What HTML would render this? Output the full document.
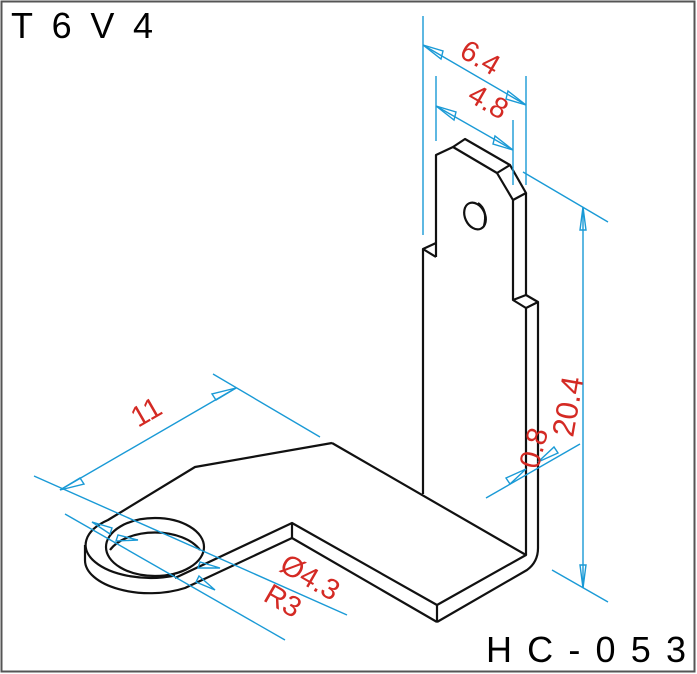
<!DOCTYPE html>
<html><head><meta charset="utf-8"><style>
html,body{margin:0;padding:0;background:#fff}
svg{display:block}
</style></head><body>
<svg width="697" height="674" viewBox="0 0 697 674" xmlns="http://www.w3.org/2000/svg">
<rect x="1.5" y="1.5" width="693" height="670" fill="#fff" stroke="#555" stroke-width="2"/>
<g font-family="Liberation Sans, sans-serif" fill="#000">
<text x="11" y="38" font-size="36" textLength="142" lengthAdjust="spacing">T6V4</text>
<text x="486" y="662" font-size="36" textLength="200" lengthAdjust="spacing">HC-053</text>
</g>
<!-- part -->
<g fill="none" stroke="#111" stroke-width="2.2" stroke-linejoin="round">
<path d="M436,257 L436,155 L453,147 L497,173 L513,200 L513,300"/>
<path d="M453,147 L465,139 L510,165 L526,193 L513,200"/>
<path d="M497,173 L510,165"/>
<path d="M526,193 L526,295"/>
<path d="M513,300 L526,295 L538,302 L526,308 Z"/>
<path d="M423,494 L423,249 L436,243 M423,249 L436,257"/>
<path d="M526,308 L526,555"/>
<path d="M538,302 L538,548 Q538,562 527,570 L437,622"/>
<ellipse cx="475" cy="216" rx="10" ry="14" transform="rotate(-25 475 216)"/>
<path d="M478,203 Q488,210 484,226"/>
<path d="M332,443 L526,555 L437,605 L292,523 L175,578"/>
<path d="M332,443 L195,467 L108,520 A65,33 0 0 0 175,575.5"/>
<path d="M437,605 L437,622"/>
<path d="M292,523 L292,538 L437,622"/>
<path d="M85,545 L85,560 A65,33 0 0 0 185,588 L292,538"/>
<ellipse cx="155" cy="547" rx="49" ry="29"/>
<path d="M110,550 A49,29 0 0 1 200,550"/>
</g>
<g fill="none" stroke="#1a9ad6" stroke-width="1.4">
<path d="M423,16 L423,235 M526,76 L526,185 M423,45 L526,105"/>
<path d="M436,76 L436,141 M513,120 L513,185 M436,106 L513,150"/>
<path d="M523,172 L608,222 M552,570 L608,602 M583,207 L583,588"/>
<path d="M486,498 L580,444"/>
<path d="M213,374 L320,437 M34,476 L347,615 M60,490 L236,388"/>
<path d="M65,514 L285,640"/>
<path d="M423,45 L443,51 L441,59 Z M526,105 L506,99 L508,91 Z"/>
<path d="M436,106 L456,112 L454,120 Z M513,150 L493,144 L495,136 Z"/>
<path d="M583,207 L580,230 L586,230 Z M583,588 L580,565 L586,565 Z"/>
<path d="M526,469 L506,478 L510,484 Z M538,462 L558,453 L554,447 Z"/>
<path d="M60,490 L80,478 L84,484 Z M236,388 L216,400 L212,394 Z"/>
<path d="M92,522 L112,528 L110,534 Z M215,590 L196,582 L199,576 Z"/>
<path d="M138,540 L118,535 L116,541 Z M220,568 L200,562 L198,568 Z"/>
</g>
<g font-family="Liberation Sans, sans-serif" fill="#d42a24" font-size="29">
<text transform="translate(458,56) rotate(30)">6.4</text>
<text transform="translate(466,100) rotate(30)">4.8</text>
<text transform="translate(573,438) rotate(-80)" font-size="31">20.4</text>
<text transform="translate(538,470) rotate(-75)">0.8</text>
<text transform="translate(138,428) rotate(-30)">11</text>
<text transform="translate(278,570) rotate(30)">Ø4.3</text>
<text transform="translate(262,600) rotate(30)">R3</text>
</g>
</svg>
</body></html>
